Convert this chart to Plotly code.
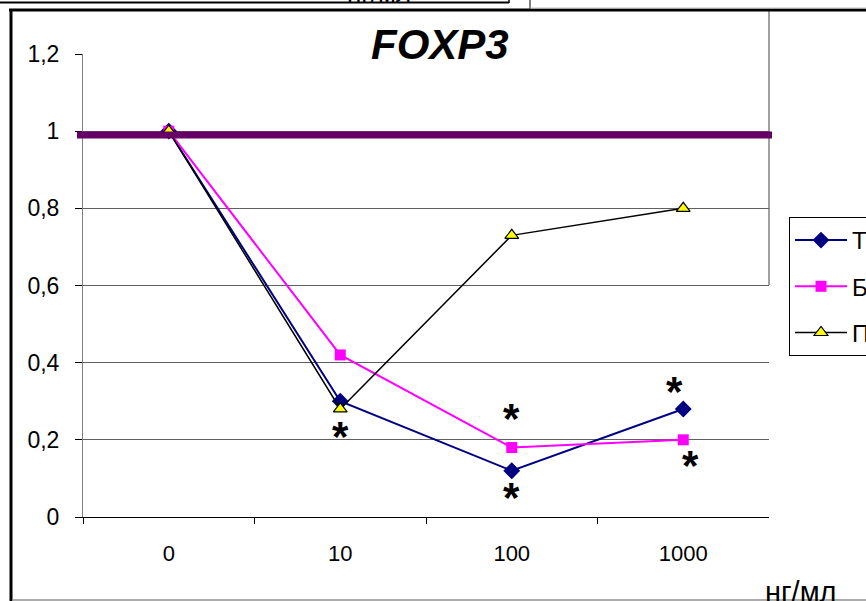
import plotly.graph_objects as go

W, H = 866, 601

# ---- data ----
categories = ["0", "10", "100", "1000"]
series_names = ["Т", "Б", "П"]
t_values = [1.0, 0.30, 0.12, 0.28]
b_values = [1.0, 0.42, 0.18, 0.20]
p_values = [1.0, 0.28, 0.73, 0.80]
y_tickvals = [0, 0.2, 0.4, 0.6, 0.8, 1.0, 1.2]
y_ticktext = ["0", "0,2", "0,4", "0,6", "0,8", "1", "1,2"]
reference_level = 0.99
star_x = [1.0, 2.0, 2.0, 2.95, 3.04]
star_y = [0.225, 0.27, 0.065, 0.342, 0.148]
title_text = "FOXP3"
unit_text = "нг/мл"

FONT = "Liberation Sans, Arial, sans-serif"

# plot area in pixels
PL, PR, PT, PB = 83, 769, 54, 517


def px(x):
    return x / W


def py(y):
    return 1 - y / H


fig = go.Figure()

fig.add_trace(go.Scatter(
    x=categories, y=t_values, name=series_names[0], mode="lines+markers",
    line=dict(color="#000080", width=2),
    marker=dict(symbol="diamond", size=13, color="#000080"),
    legendgroup="a"))
fig.add_trace(go.Scatter(
    x=categories, y=b_values, name=series_names[1], mode="lines+markers",
    line=dict(color="#FF00FF", width=2),
    marker=dict(symbol="square", size=11, color="#FF00FF"),
    legendgroup="b"))
fig.add_trace(go.Scatter(
    x=categories, y=p_values, name=series_names[2], mode="lines+markers",
    line=dict(color="#000000", width=1.5),
    marker=dict(symbol="triangle-up", size=12, color="#FFFF00",
                line=dict(color="#000000", width=1.2)),
    legendgroup="c"))

shapes = []
# white box behind title (interrupts top gridline)
shapes.append(dict(type="rect", xref="paper", yref="paper",
                   x0=px(348), x1=px(530), y0=py(62), y1=py(30),
                   fillcolor="white", line=dict(width=0), layer="above"))
# reference line at 1
shapes.append(dict(type="line", xref="paper", yref="y",
                   x0=px(77), x1=px(772), y0=reference_level, y1=reference_level,
                   line=dict(color="#660066", width=7), layer="above"))
# vertical gray line at right of plot area (upper part)
shapes.append(dict(type="line", xref="paper", yref="paper",
                   x0=px(769), x1=px(769), y0=py(10), y1=py(285),
                   line=dict(color="#808080", width=1.5), layer="below"))
# chart frame
shapes.append(dict(type="line", xref="paper", yref="paper",
                   x0=px(9), x1=px(866), y0=py(10), y1=py(10),
                   line=dict(color="black", width=3)))
shapes.append(dict(type="line", xref="paper", yref="paper",
                   x0=px(11), x1=px(11), y0=py(9), y1=py(601),
                   line=dict(color="black", width=3)))
shapes.append(dict(type="line", xref="paper", yref="paper",
                   x0=px(12), x1=px(866), y0=py(600), y1=py(600),
                   line=dict(color="#909090", width=1.5)))
# fragment of the chart above
shapes.append(dict(type="line", xref="paper", yref="paper",
                   x0=px(0), x1=px(509), y0=py(2.5), y1=py(2.5),
                   line=dict(color="black", width=2)))
shapes.append(dict(type="line", xref="paper", yref="paper",
                   x0=px(509), x1=px(509), y0=py(0), y1=py(3),
                   line=dict(color="black", width=1.5)))
shapes.append(dict(type="line", xref="paper", yref="paper",
                   x0=px(530), x1=px(530), y0=py(0), y1=py(9),
                   line=dict(color="black", width=1)))
shapes.append(dict(type="line", xref="paper", yref="paper",
                   x0=px(530), x1=px(866), y0=py(8), y1=py(8),
                   line=dict(color="#c0c0c0", width=1)))

annotations = []
annotations.append(dict(text="<b><i>%s</i></b>" % title_text, xref="paper", yref="paper",
                        x=px(440), y=py(44), xanchor="center", yanchor="middle",
                        showarrow=False, font=dict(family=FONT, size=42, color="black")))
for sx, sy in zip(star_x, star_y):
    annotations.append(dict(text="<b>*</b>", xref="x", yref="y", x=sx, y=sy,
                            xanchor="center", yanchor="middle", yshift=-6,
                            showarrow=False, font=dict(family=FONT, size=42, color="black")))
annotations.append(dict(text=unit_text, xref="paper", yref="paper",
                        x=px(801), y=py(592), xanchor="center", yanchor="middle",
                        showarrow=False, font=dict(family=FONT, size=29, color="black")))
annotations.append(dict(text=unit_text, xref="paper", yref="paper",
                        x=px(379), y=py(-7), xanchor="center", yanchor="middle",
                        showarrow=False, font=dict(family=FONT, size=26, color="black")))

fig.update_layout(
    width=W, height=H,
    margin=dict(l=0, r=0, t=0, b=0, autoexpand=False),
    paper_bgcolor="white", plot_bgcolor="white",
    font=dict(family=FONT, color="black"),
    showlegend=True,
    legend=dict(x=px(789), y=py(217), xanchor="left", yanchor="top",
                bordercolor="black", borderwidth=1, bgcolor="white",
                font=dict(family=FONT, size=24, color="black"),
                tracegroupgap=12, itemwidth=52),
    xaxis=dict(type="category", range=[-0.5, 3.5], domain=[px(PL), px(PR)],
               showgrid=False, zeroline=False, showline=True, linecolor="black", linewidth=1,
               ticks="outside", tickson="boundaries", ticklen=6, tickcolor="black",
               tickfont=dict(family=FONT, size=22, color="black"), ticklabelstandoff=17,
               fixedrange=True),
    yaxis=dict(range=[0, 1.2], domain=[py(PB), py(PT)],
               tickvals=y_tickvals, ticktext=y_ticktext,
               showgrid=True, gridcolor="#606060", gridwidth=1,
               zeroline=False, showline=True, linecolor="#808080", linewidth=1,
               ticks="outside", ticklen=7, tickcolor="black",
               tickfont=dict(family=FONT, size=23, color="black"), ticklabelstandoff=11,
               fixedrange=True),
    shapes=shapes,
    annotations=annotations,
)

fig.write_html("out.html", config={"displayModeBar": False},
               post_script="document.body.style.margin='0';document.body.style.overflow='hidden';")
